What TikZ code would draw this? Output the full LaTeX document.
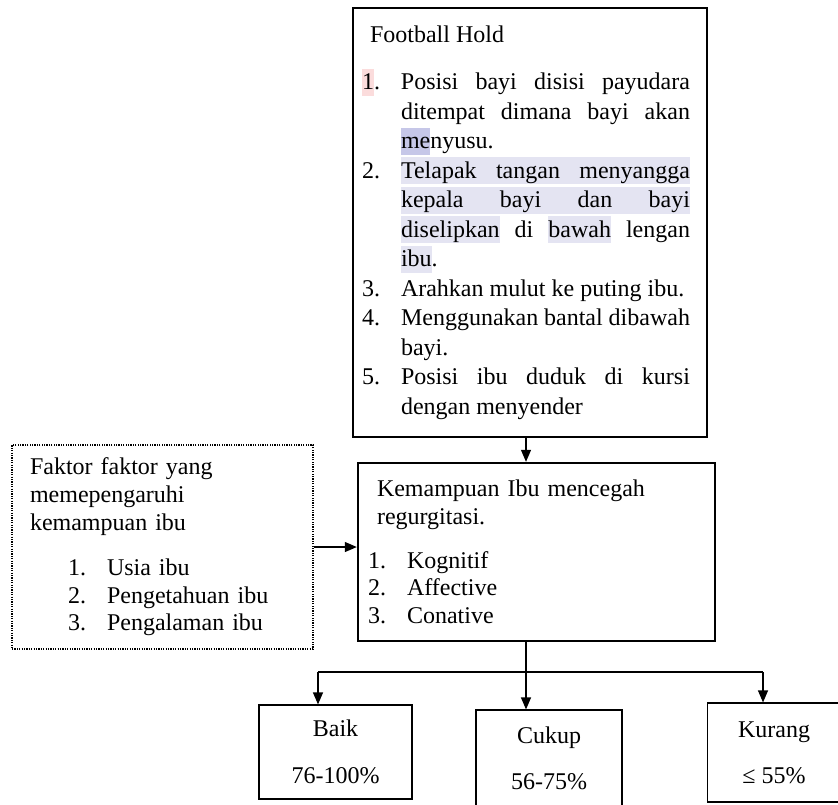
\documentclass[tikz,border=0pt]{standalone}
\usepackage{fontspec}
\setmainfont{Liberation Serif}
\usetikzlibrary{arrows.meta, positioning}
\definecolor{hlPink}{HTML}{FBDCDC}
\definecolor{hlLav}{HTML}{E4E4F2}
\definecolor{hlDark}{HTML}{C6C7E8}
% numbered line with hanging indent
\newcommand{\itm}[2][0pt]{\par\hangindent=\dimexpr#1+19.5pt\relax\hangafter=1\noindent\hspace*{#1}\makebox[19.5pt][l]{#2}}
% highlighted word and highlighted space
\newcommand{\hlw}[2][hlLav]{{\setlength{\fboxsep}{0pt}\colorbox{#1}{\rule[-3pt]{0pt}{13.5pt}#2}}}
\newcommand{\hls}{{\color{hlLav}\leaders\vrule height 10.5pt depth 3pt\hskip\fontdimen2\font plus\fontdimen3\font minus\fontdimen4\font}}

\begin{document}
\begin{tikzpicture}[x=0.5pt, y=-0.5pt,
  box/.style={draw, line width=0.6pt, inner xsep=0pt, inner ysep=0pt,
    align=left, font=\fontsize{12}{13.9}\selectfont},
  leaf/.style={box, align=center},
  arr/.style={-{Triangle[length=6pt, width=5pt]}, line width=0.6pt}
]
\useasboundingbox (0,0) rectangle (838,804);
\clip (0,0) rectangle (838,804);

\node[box, align=justify, text width=168pt, minimum width=177pt, minimum height=214.5pt,
  font=\fontsize{12}{14.75}\selectfont] (hold) at (530,222.5) {%
  \hyphenpenalty=10000\rightskip=4pt
  \hspace*{4pt}Football Hold\par\vspace{9pt}
  \itm{\hlw[hlPink]{1}.}Posisi bayi disisi payudara ditempat dimana bayi akan \hlw[hlDark]{me}nyusu.
  \itm{2.}\hlw{Telapak}\hls\hlw{tangan}\hls\hlw{menyangga}\hls\hlw{kepala}\hls\hlw{bayi}\hls\hlw{dan}\hls\hlw{bayi}\hls\hlw{diselipkan} di \hlw{bawah} lengan \hlw{ibu}.
  \itm{3.}Arahkan mulut ke puting ibu.
  \itm{4.}Menggunakan bantal dibawah bayi.
  \itm{5.}Posisi ibu duduk di kursi dengan menyender\par};

\node[box, line width=1.2pt, text width=168.5pt, minimum width=178.5pt, minimum height=89pt]
  (mampu) at (536.5,552) {%
  \hspace*{4.5pt}Kemampuan Ibu mencegah\\
  \hspace*{4.5pt}regurgitasi.\par\vspace{8pt}
  \itm{1.}Kognitif
  \itm{2.}Affective
  \itm{3.}Conative\par};

\node[box, line width=0.8pt, dash pattern=on 0.6pt off 0.6pt, text width=132.5pt,
  minimum width=150.5pt, minimum height=102pt] (faktor) at (162.5,547) {%
  Faktor faktor yang\\
  memepengaruhi\\
  kemampuan ibu\par\vspace{8.5pt}
  \itm[19pt]{1.}Usia ibu
  \itm[19pt]{2.}Pengetahuan ibu
  \itm[19pt]{3.}Pengalaman ibu\par};

\node[leaf, minimum width=76.5pt, minimum height=47pt] (baik) at (335.5,752) {Baik\\[9.4pt]76-100\%};
\node[leaf, minimum width=73pt, minimum height=48pt] (cukup) at (549,758) {Cukup\\[9.2pt]56-75\%};
\node[leaf, minimum width=66.5pt, minimum height=49.5pt] (kurang) at (774,752.5) {Kurang\\[9.2pt]≤ 55\%};

\coordinate (split) at (526,672);
\coordinate (brL) at (318,672);
\coordinate (brR) at (763,672);

\draw[arr] ([xshift=-2pt]hold.south) -- ([xshift=-2pt]hold.south |- mampu.north);
\draw[arr] (faktor.east) -- (faktor.east -| mampu.west);
\draw[line width=0.6pt] (mampu.south -| split) -- (split);
\draw[line width=0.6pt] (brL) -- (brR);
\draw[arr] (brL) -- (brL |- baik.north);
\draw[arr] (split) -- (split |- cukup.north);
\draw[arr] (brR) -- (brR |- kurang.north);
\end{tikzpicture}
\end{document}
